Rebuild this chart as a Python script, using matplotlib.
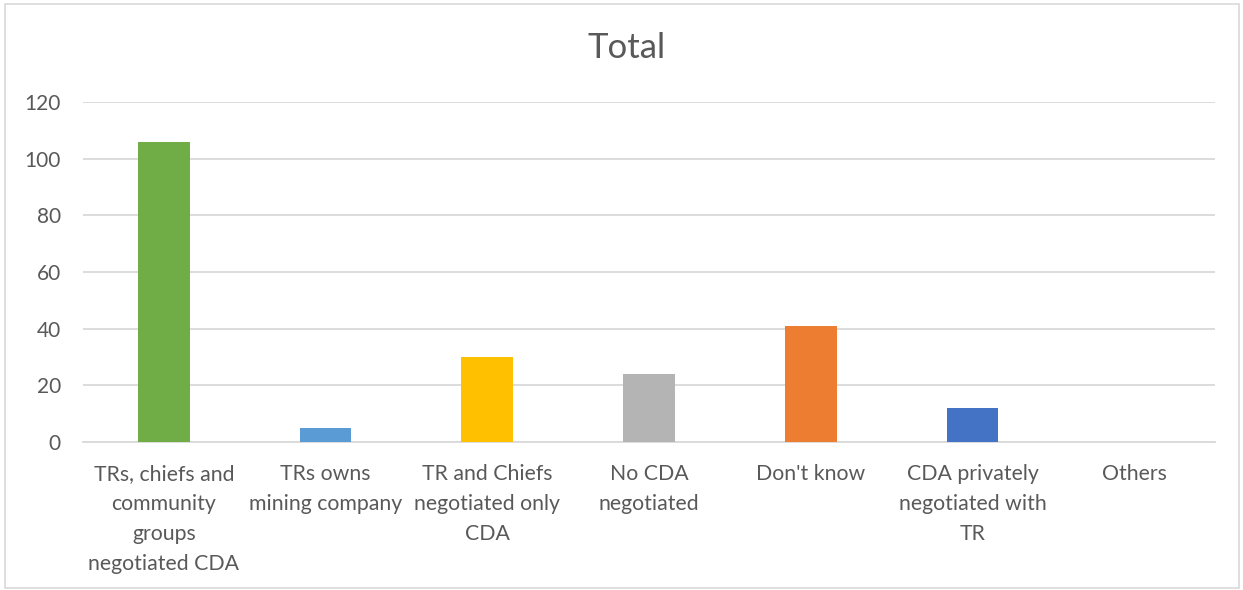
import matplotlib.pyplot as plt
from matplotlib.patches import Rectangle

categories = [
    "TRs, chiefs and\ncommunity\ngroups\nnegotiated CDA",
    "TRs owns\nmining company",
    "TR and Chiefs\nnegotiated only\nCDA",
    "No CDA\nnegotiated",
    "Don't know",
    "CDA privately\nnegotiated with\nTR",
    "Others",
]
values = [106, 5, 30, 24, 41, 12, 0]
colors = ["#70AD47", "#5B9BD5", "#FFC000", "#B4B4B4", "#ED7D31", "#4472C4", "#A5A5A5"]
y_ticks = [0, 20, 40, 60, 80, 100, 120]

plt.rcParams["font.family"] = ["Lato", "DejaVu Sans"]
text_color = "#595959"

fig = plt.figure(figsize=(12.43, 5.9), dpi=100)
ax = fig.add_axes([0.0668, 0.2508, 0.9107, 0.5763])

x = range(len(categories))
ax.bar(x, values, width=0.32, color=colors, zorder=3)

ax.set_xlim(-0.5, len(categories) - 0.5)
ax.set_ylim(0, 120)
ax.set_yticks(y_ticks)
ax.set_xticks(list(x))
ax.set_xticklabels(categories, fontsize=15.3, color=text_color, linespacing=1.62, va="top")
ax.tick_params(axis="x", length=0, pad=16)
ax.tick_params(axis="y", length=0, pad=16, labelsize=15, labelcolor=text_color)

ax.grid(axis="y", color="#D9D9D9", linewidth=1.3, zorder=0)
for side in ["top", "right", "left"]:
    ax.spines[side].set_visible(False)
ax.spines["bottom"].set_color("#D9D9D9")
ax.spines["bottom"].set_linewidth(1.3)

fig.text(0.5037, 0.918, "Total", ha="center", va="center", fontsize=25, color=text_color)

# light outline around the chart area
fig.patches.append(Rectangle((0.004, 0.004), 0.993, 0.99, transform=fig.transFigure,
                             fill=False, edgecolor="#D9D9D9", linewidth=1.2))

fig.savefig("out.png", dpi=100, facecolor="white")
